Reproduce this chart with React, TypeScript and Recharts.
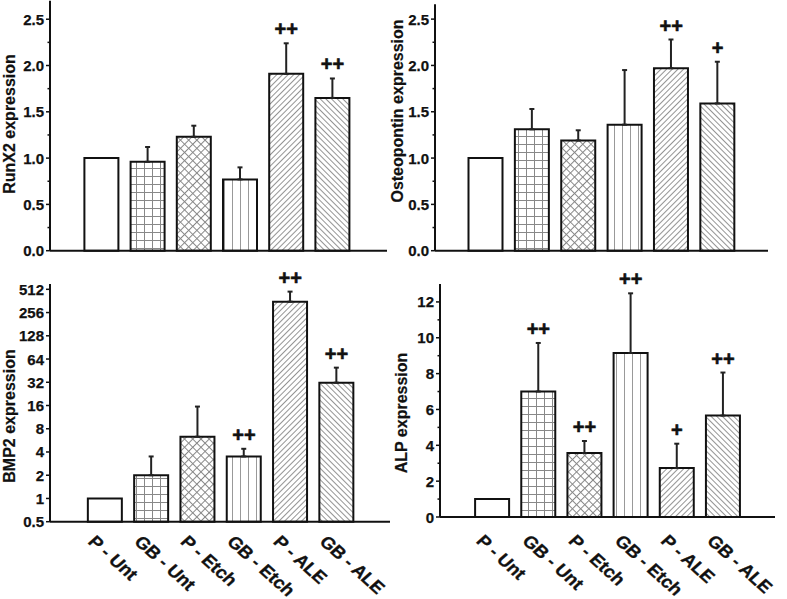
import React from 'react';
import { ComposedChart, Bar, XAxis, YAxis, ErrorBar, Scatter, Cell } from 'recharts';

const categories = ['P - Unt', 'GB - Unt', 'P - Etch', 'GB - Etch', 'P - ALE', 'GB - ALE'];

const runx2Values = [1.0, 0.96, 1.23, 0.77, 1.91, 1.65];
const runx2ErrTop = [1.0, 1.12, 1.35, 0.9, 2.24, 1.86];
const runx2Sig = ['', '', '', '', '++', '++'];

const osteoValues = [1.0, 1.31, 1.19, 1.36, 1.97, 1.59];
const osteoErrTop = [1.0, 1.53, 1.3, 1.95, 2.28, 2.04];
const osteoSig = ['', '', '', '', '++', '+'];

const bmp2Values = [1, 2, 6.3, 3.5, 354, 31.6];
const bmp2ErrTop = [1, 3.5, 15.5, 4.4, 478, 49.5];
const bmp2Sig = ['', '', '', '++', '++', '++'];

const alpValues = [1, 7.0, 3.57, 9.15, 2.73, 5.66];
const alpErrTop = [1, 9.71, 4.24, 12.48, 4.09, 8.06];
const alpSig = ['', '++', '++', '++', '+', '++'];

const linearMajorTicks = [0, 0.5, 1, 1.5, 2, 2.5];
const linearMinorTicks = [0.25, 0.75, 1.25, 1.75, 2.25];
const bmp2Ticks = [0.5, 1, 2, 4, 8, 16, 32, 64, 128, 256, 512];
const alpMajorTicks = [0, 2, 4, 6, 8, 10, 12];
const alpMinorTicks = [1, 3, 5, 7, 9, 11];

const patternFills = ['#ffffff', 'url(#pGrid)', 'url(#pCross)', 'url(#pVert)', 'url(#pFwd)', 'url(#pBack)'];

const FONT = '"Liberation Sans", Arial, Helvetica, sans-serif';

const fmt1 = (v: number) => v.toFixed(1);
const fmtPlain = (v: number) => String(v);

function Patterns() {
  return (
    <svg width={0} height={0} style={{ position: 'absolute' }}>
      <defs>
        <pattern id="pGrid" width={8} height={8} patternUnits="userSpaceOnUse">
          <rect width={8} height={8} fill="#fff" />
          <path d="M0 0.5 H8 M0.5 0 V8" stroke="#888" strokeWidth={1} fill="none" />
        </pattern>
        <pattern id="pCross" width={5.8} height={5.8} patternUnits="userSpaceOnUse" patternTransform="rotate(45)">
          <rect width={5.8} height={5.8} fill="#fff" />
          <path d="M0 0.5 H5.8 M0.5 0 V5.8" stroke="#888" strokeWidth={1} fill="none" />
        </pattern>
        <pattern id="pVert" width={8} height={8} patternUnits="userSpaceOnUse">
          <rect width={8} height={8} fill="#fff" />
          <path d="M0.5 0 V8" stroke="#999" strokeWidth={1} fill="none" />
        </pattern>
        <pattern id="pFwd" width={4} height={4} patternUnits="userSpaceOnUse" patternTransform="rotate(45)">
          <rect width={4} height={4} fill="#fff" />
          <path d="M0.5 0 V4" stroke="#888" strokeWidth={0.9} fill="none" />
        </pattern>
        <pattern id="pBack" width={4} height={4} patternUnits="userSpaceOnUse" patternTransform="rotate(-45)">
          <rect width={4} height={4} fill="#fff" />
          <path d="M0.5 0 V4" stroke="#888" strokeWidth={0.9} fill="none" />
        </pattern>
      </defs>
    </svg>
  );
}

const renderSig = (props: any) => {
  const { cx, cy, payload } = props;
  if (!payload || !payload.sig) return <g />;
  return (
    <text
      x={cx}
      y={cy - 14}
      textAnchor="middle"
      dominantBaseline="central"
      fontSize={20}
      fontWeight="bold"
      fontFamily={FONT}
      fill="#111"
      stroke="#111"
      strokeWidth={0.6}
    >
      {payload.sig}
    </text>
  );
};

type PanelProps = {
  box: { left: number; top: number; w: number; h: number };
  plot: { l: number; r: number; t: number; b: number };
  values: number[];
  errTop: number[];
  sig: string[];
  title: string;
  titlePos: { x: number; y: number };
  domain: [number, number];
  scale: 'linear' | 'log';
  majors: number[];
  minors: number[];
  fmt: (v: number) => string;
  showX: boolean;
  labelDx: number;
  labelDy: number;
  padding: { left: number; right: number };
};

function Panel(p: PanelProps) {
  const data = categories.map((c, i) => ({
    cat: c,
    value: p.values[i],
    err: p.errTop[i] > p.values[i] ? [0, p.errTop[i] - p.values[i]] : null,
    top: p.errTop[i],
    sig: p.sig[i],
  }));
  const W = 40;
  const XH = 1;
  const margin = {
    top: p.plot.t - p.box.top,
    left: p.plot.l - p.box.left - W,
    right: p.box.left + p.box.w - p.plot.r,
    bottom: p.box.top + p.box.h - p.plot.b - XH,
  };
  const allTicks = [...p.majors, ...p.minors].sort((a, b) => a - b);
  const tx = p.titlePos.x - p.box.left;
  const ty = p.titlePos.y - p.box.top;

  const yTick = (tp: any) => {
    const v = tp.payload.value;
    const isMajor = p.majors.includes(v);
    return (
      <g>
        <line x1={tp.x - (isMajor ? 4 : 2.5)} x2={tp.x} y1={tp.y} y2={tp.y} stroke="#111" strokeWidth={1.5} />
        {isMajor ? (
          <text
            x={tp.x - 6}
            y={tp.y}
            textAnchor="end"
            dominantBaseline="central"
            fontSize={15}
            fontWeight="bold"
            fontFamily={FONT}
            fill="#111"
            stroke="#111"
            strokeWidth={0.25}
          >
            {p.fmt(v)}
          </text>
        ) : null}
      </g>
    );
  };

  const xTick = (tp: any) => {
    const x0 = tp.x + p.labelDx;
    const y0 = tp.y + p.labelDy;
    return (
      <text
        x={0}
        y={0}
        transform={`translate(${x0}, ${y0}) scale(1.12, 1) rotate(45)`}
        textAnchor="start"
        fontSize={17}
        fontWeight="bold"
        fontFamily={FONT}
        fill="#111"
        stroke="#111"
        strokeWidth={0.3}
      >
        {tp.payload.value}
      </text>
    );
  };

  return (
    <div style={{ position: 'absolute', left: p.box.left, top: p.box.top }}>
      <ComposedChart width={p.box.w} height={p.box.h} data={data} margin={margin}>
        <XAxis
          dataKey="cat"
          type="category"
          height={XH}
          padding={p.padding}
          interval={0}
          tickLine={false}
          tickSize={0}
          tickMargin={0}
          axisLine={{ stroke: '#111', strokeWidth: 2 }}
          tick={p.showX ? xTick : false}
        />
        <YAxis
          type="number"
          scale={p.scale}
          domain={p.domain}
          ticks={allTicks}
          interval={0}
          width={W}
          tickLine={false}
          tickSize={0}
          tickMargin={0}
          axisLine={{ stroke: '#111', strokeWidth: 2 }}
          tick={yTick}
          label={() => (
            <text
              x={tx}
              y={ty}
              transform={`rotate(-90, ${tx}, ${ty})`}
              textAnchor="middle"
              fontSize={16}
              fontWeight="bold"
              fontFamily={FONT}
              fill="#111"
              stroke="#111"
              strokeWidth={0.2}
            >
              {p.title}
            </text>
          )}
        />
        <Bar dataKey="value" barSize={34} stroke="#111" strokeWidth={2} isAnimationActive={false}>
          {data.map((d, i) => (
            <Cell key={d.cat} fill={patternFills[i]} />
          ))}
          <ErrorBar dataKey="err" width={2.5} stroke="#222" strokeWidth={2} direction="y" />
        </Bar>
        <Scatter dataKey="top" isAnimationActive={false} shape={renderSig} />
      </ComposedChart>
    </div>
  );
}

export default function App() {
  return (
    <div style={{ position: 'absolute', left: 0, top: 0, width: 787, height: 599, background: '#fff', overflow: 'hidden' }}>
      <Patterns />
      <Panel
        box={{ left: 0, top: 0, w: 400, h: 260 }}
        plot={{ l: 50, r: 387, t: 0.7, b: 250.7 }}
        values={runx2Values}
        errTop={runx2ErrTop}
        sig={runx2Sig}
        title="RunX2 expression"
        titlePos={{ x: 15, y: 124 }}
        domain={[0, 2.7]}
        scale="linear"
        majors={linearMajorTicks}
        minors={linearMinorTicks}
        fmt={fmt1}
        showX={false}
        labelDx={-18}
        labelDy={21}
        padding={{ left: 28.4, right: 31.4 }}
      />
      <Panel
        box={{ left: 390, top: 0, w: 397, h: 260 }}
        plot={{ l: 435, r: 768, t: 4.3, b: 250.7 }}
        values={osteoValues}
        errTop={osteoErrTop}
        sig={osteoSig}
        title="Osteopontin expression"
        titlePos={{ x: 403, y: 111 }}
        domain={[0, 2.66]}
        scale="linear"
        majors={linearMajorTicks}
        minors={linearMinorTicks}
        fmt={fmt1}
        showX={false}
        labelDx={-18}
        labelDy={21}
        padding={{ left: 27.5, right: 27.3 }}
      />
      <Panel
        box={{ left: 0, top: 262, w: 400, h: 337 }}
        plot={{ l: 50, r: 390, t: 284, b: 521.7 }}
        values={bmp2Values}
        errTop={bmp2ErrTop}
        sig={bmp2Sig}
        title="BMP2 expression"
        titlePos={{ x: 15, y: 416 }}
        domain={[0.5, 600]}
        scale="log"
        majors={bmp2Ticks}
        minors={[]}
        fmt={fmtPlain}
        showX={true}
        labelDx={-18}
        labelDy={21}
        padding={{ left: 31.85, right: 30.35 }}
      />
      <Panel
        box={{ left: 392, top: 262, w: 395, h: 337 }}
        plot={{ l: 440, r: 775, t: 284, b: 517 }}
        values={alpValues}
        errTop={alpErrTop}
        sig={alpSig}
        title="ALP expression"
        titlePos={{ x: 406.5, y: 413 }}
        domain={[0, 13]}
        scale="linear"
        majors={alpMajorTicks}
        minors={alpMinorTicks}
        fmt={fmtPlain}
        showX={true}
        labelDx={-17}
        labelDy={25}
        padding={{ left: 29.1, right: 28.9 }}
      />
    </div>
  );
}
